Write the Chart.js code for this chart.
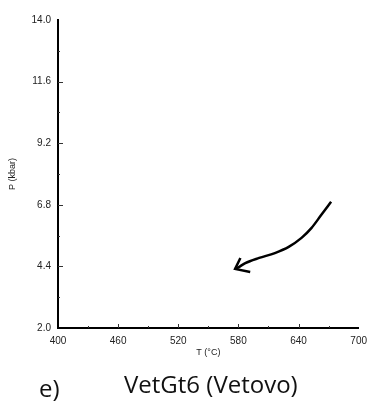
<!DOCTYPE html>
<html>
<head>
<meta charset="utf-8">
<script src="https://cdn.jsdelivr.net/npm/chart.js@4/dist/chart.umd.min.js"></script>
<style>
  body { margin: 0; background: #fff; }
  #wrap { position: relative; width: 374px; height: 403px; }
  .cap { position: absolute; font-family: "Open Sans", sans-serif; font-size: 24px; line-height: 30px; color: #111; white-space: nowrap; }
</style>
</head>
<body>
<div id="wrap">
  <canvas id="ptChart" width="374" height="403"></canvas>
  <div class="cap" style="left:39px; top:373px;">e)</div>
  <div class="cap" style="left:124px; top:369px;">VetGt6 (Vetovo)</div>
</div>
<script>
// P-T diagram, hand-drawn arrow path (T in °C, P in kbar)
const xTicks = [400, 460, 520, 580, 640, 700];
const yTicks = [2.0, 4.4, 6.8, 9.2, 11.6, 14.0];
const xMinor = [430, 490, 550, 610, 670];
const yMinor = [3.2, 5.6, 8.0, 10.4, 12.8];
const arrowT = [672.5, 662.6, 652.8, 643.0, 630.2, 616.4, 600.7, 586.9, 579.0, 576.7];
const arrowP = [6.92, 6.40, 5.89, 5.51, 5.16, 4.92, 4.73, 4.53, 4.34, 4.30];
const headT = [582.0, 576.7, 591.8];
const headP = [4.73, 4.30, 4.18];

const toPoints = (xs, ys) => xs.map((x, i) => ({ x: x, y: ys[i] }));

const tickFont = { family: 'Liberation Sans', size: 10 };
const titleFont = { family: 'Liberation Sans', size: 9 };

// little tick marks pointing into the plot, like the printed figure
const innerTicks = {
  id: 'innerTicks',
  afterDraw(chart) {
    const { ctx, scales } = chart;
    const x = scales.x;
    const y = scales.y;
    ctx.save();
    ctx.strokeStyle = '#333';
    ctx.lineWidth = 1;
    ctx.beginPath();
    xTicks.slice(1, -1).forEach((v) => {
      const px = Math.round(x.getPixelForValue(v)) + 0.5;
      ctx.moveTo(px, y.bottom); ctx.lineTo(px, y.bottom - 4);
    });
    xMinor.forEach((v) => {
      const px = Math.round(x.getPixelForValue(v)) + 0.5;
      ctx.moveTo(px, y.bottom); ctx.lineTo(px, y.bottom - 2);
    });
    yTicks.slice(1, -1).forEach((v) => {
      const py = Math.round(y.getPixelForValue(v)) + 0.5;
      ctx.moveTo(x.left, py); ctx.lineTo(x.left + 5, py);
    });
    yMinor.forEach((v) => {
      const py = Math.round(y.getPixelForValue(v)) + 0.5;
      ctx.moveTo(x.left, py); ctx.lineTo(x.left + 2, py);
    });
    ctx.stroke();
    ctx.restore();
  },
};

new Chart(document.getElementById('ptChart'), {
  type: 'line',
  data: {
    datasets: [
      {
        data: toPoints(arrowT, arrowP),
        borderColor: '#000',
        borderWidth: 2.5,
        pointRadius: 0,
        cubicInterpolationMode: 'monotone',
        fill: false,
      },
      {
        data: toPoints(headT, headP),
        borderColor: '#000',
        borderWidth: 2.5,
        pointRadius: 0,
        tension: 0,
        fill: false,
      },
    ],
  },
  options: {
    responsive: false,
    animation: false,
    layout: { padding: { top: 20, right: 11, bottom: 40, left: 0 } },
    plugins: { legend: { display: false }, tooltip: { enabled: false } },
    scales: {
      x: {
        type: 'linear',
        min: 400,
        max: 700,
        afterBuildTicks: (s) => { s.ticks = xTicks.map((v) => ({ value: v })); },
        afterFit: (s) => { s.height = 35; },
        grid: { display: false, drawTicks: false },
        border: { color: '#000', width: 2 },
        ticks: { color: '#222', font: tickFont, padding: 7, maxRotation: 0 },
        title: { display: true, text: 'T (°C)', color: '#222', font: titleFont, padding: { top: 0, bottom: 5 } },
      },
      y: {
        type: 'linear',
        min: 2,
        max: 14,
        afterBuildTicks: (s) => { s.ticks = yTicks.map((v) => ({ value: v })); },
        afterFit: (s) => { s.width = 58; },
        grid: { display: false, drawTicks: false },
        border: { color: '#000', width: 2 },
        ticks: { color: '#222', font: tickFont, padding: 7, callback: (v) => Number(v).toFixed(1) },
        title: { display: true, text: 'P (kbar)', color: '#222', font: titleFont, padding: { top: 7, bottom: 0 } },
      },
    },
  },
  plugins: [innerTicks],
});
</script>
</body>
</html>
